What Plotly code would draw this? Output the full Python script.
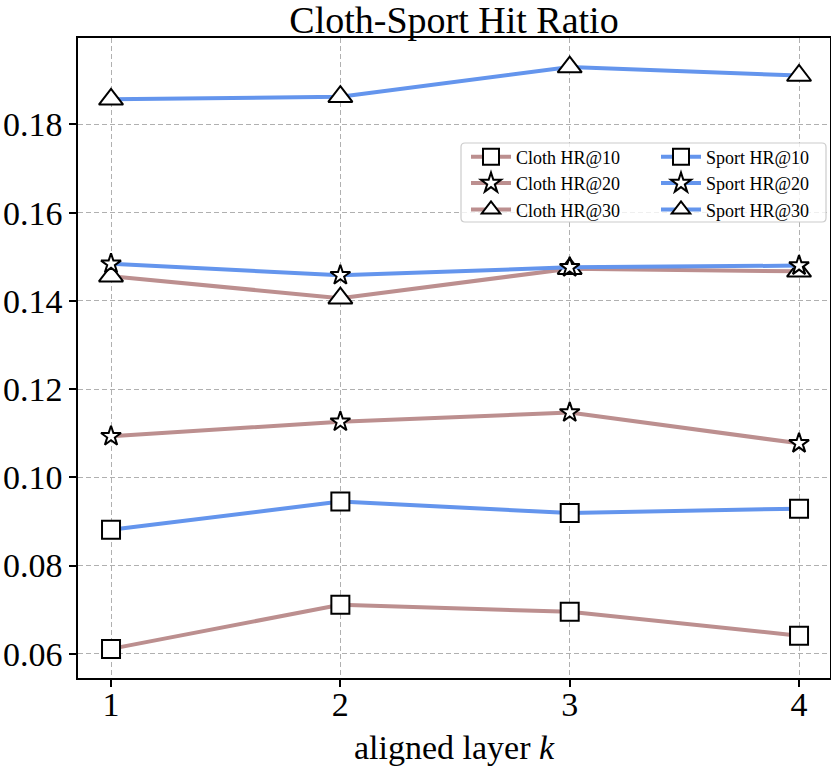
import plotly.graph_objects as go

# aligned layer k
layers = [1, 2, 3, 4]

cloth_hr10 = [0.0611, 0.0711, 0.0695, 0.0641]
cloth_hr20 = [0.1093, 0.1126, 0.1147, 0.1077]
cloth_hr30 = [0.1456, 0.1406, 0.1473, 0.1467]
sport_hr10 = [0.0881, 0.0945, 0.0919, 0.0929]
sport_hr20 = [0.1484, 0.1458, 0.1476, 0.1480]
sport_hr30 = [0.1857, 0.1863, 0.1930, 0.1911]

y_ticks = [0.06, 0.08, 0.10, 0.12, 0.14, 0.16, 0.18]

CLOTH = "#BC8F8F"   # rosybrown
SPORT = "#6495ED"   # cornflowerblue
FONT = "Liberation Serif"

series = [
    ("Cloth HR@10", cloth_hr10, CLOTH, "square", 18, "legend"),
    ("Cloth HR@20", cloth_hr20, CLOTH, "star", 15, "legend"),
    ("Cloth HR@30", cloth_hr30, CLOTH, "triangle-up", 21, "legend"),
    ("Sport HR@10", sport_hr10, SPORT, "square", 18, "legend2"),
    ("Sport HR@20", sport_hr20, SPORT, "star", 15, "legend2"),
    ("Sport HR@30", sport_hr30, SPORT, "triangle-up", 21, "legend2"),
]

fig = go.Figure()
for name, vals, color, symbol, size, leg in series:
    fig.add_trace(go.Scatter(
        x=layers, y=vals, name=name, mode="lines+markers",
        line=dict(color=color, width=4),
        marker=dict(symbol=symbol, size=size, color="white",
                    line=dict(color="black", width=2)),
        legend=leg,
    ))

W, H = 831, 770
pw, ph = 752, 640

# rounded legend frame in paper coords (pixels -> paper)
x0, x1 = (461 - 78) / pw, (826 - 78) / pw
y0, y1 = (678 - 222) / ph, (678 - 143) / ph
rx, ry = 4 / pw, 4 / ph
frame = (f"M {x0+rx},{y0} L {x1-rx},{y0} Q {x1},{y0} {x1},{y0+ry} "
         f"L {x1},{y1-ry} Q {x1},{y1} {x1-rx},{y1} L {x0+rx},{y1} "
         f"Q {x0},{y1} {x0},{y1-ry} L {x0},{y0+ry} Q {x0},{y0} {x0+rx},{y0} Z")

legend_style = dict(
    font=dict(family=FONT, size=18, color="black"),
    bgcolor="rgba(0,0,0,0)", borderwidth=0,
    itemwidth=40, tracegroupgap=0,
    xanchor="left", yanchor="top", y=0.843,
)

axis_common = dict(
    showline=True, linecolor="black", linewidth=1.5, mirror=True,
    ticks="outside", ticklen=7, tickwidth=1.5, tickcolor="black",
    showgrid=True, gridcolor="#b0b0b0", gridwidth=1.2, griddash="5px,3px",
    zeroline=False, automargin=False,
    tickfont=dict(family=FONT, size=34, color="black"),
)

fig.update_layout(
    width=W, height=H,
    margin=dict(l=78, r=W - 78 - pw, t=38, b=H - 38 - ph),
    plot_bgcolor="white", paper_bgcolor="white",
    title=dict(text="Cloth-Sport Hit Ratio", xref="paper", x=0.5,
               xanchor="center", y=1 - 20 / H, yanchor="middle",
               font=dict(family=FONT, size=38, color="black")),
    xaxis=dict(axis_common, range=[0.856, 4.135], tickvals=layers,
               ticklabelstandoff=-12,
               title=dict(text="aligned layer <i>k</i>", standoff=14,
                          font=dict(family=FONT, size=34, color="black"))),
    yaxis=dict(axis_common, range=[0.0545, 0.1996], tickvals=y_ticks,
               tickformat=".2f"),
    legend=dict(legend_style, x=(466 - 78) / pw),
    legend2=dict(legend_style, x=(656 - 78) / pw),
    shapes=[dict(type="path", path=frame, xref="paper", yref="paper",
                 fillcolor="rgba(255,255,255,0.8)",
                 line=dict(color="#cccccc", width=1.2), layer="above")],
)

# drop the default 8px body margin so the figure fills the window
fig.write_html("out.html", config={"displayModeBar": False},
               post_script="document.body.style.margin = '0';")
